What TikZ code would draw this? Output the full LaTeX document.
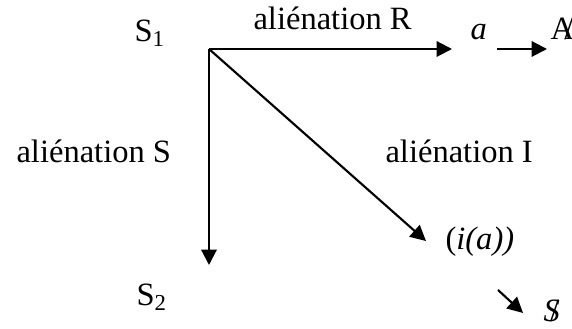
\documentclass[tikz,border=0pt]{standalone}
\usepackage{fontspec}
\setmainfont{Liberation Serif}
\usetikzlibrary{arrows.meta}
\tikzset{
  lbl/.style={inner sep=0pt, anchor=base west, font=\fontsize{12.2}{14}\selectfont},
  arr/.style={line width=0.8pt, -{Triangle[length=5.8pt,width=5.8pt]}}
}
\begin{document}
\begin{tikzpicture}[x=0.375pt,y=-0.375pt]
\useasboundingbox (0,0) rectangle (572,329);
\coordinate (O) at (209,49);
\coordinate (Rend) at (452,49);
\coordinate (Send) at (209,265);
\coordinate (Iend) at (426,241);
\coordinate (aA1) at (497,49);
\coordinate (aA2) at (547,49);
\coordinate (iS1) at (498,290);
\coordinate (iS2) at (523,313);
\node[lbl] (s1) at (134,42) {S\textsubscript{1}};
\node[lbl] (alR) at (253,30) {aliénation R};
\node[lbl] (a) at (470,40) {\textit{a}};
\node[lbl] (A) at (550,40) {A\kern-0.3em/};
\node[lbl] (alS) at (16,163) {aliénation S};
\node[lbl] (alI) at (385,163) {aliénation I};
\node[lbl] (ia) at (445,250) {(\textit{i(a))}};
\node[lbl] (s2) at (136,306) {S\textsubscript{2}};
\node[lbl] (S) at (543,322) {\textit{S}\kern-0.3em/};
\draw[arr] (O) -- (Rend);
\draw[arr] (O) -- (Send);
\draw[arr] (O) -- (Iend);
\draw[arr] (aA1) -- (aA2);
\draw[arr] (iS1) -- (iS2);
\end{tikzpicture}
\end{document}
